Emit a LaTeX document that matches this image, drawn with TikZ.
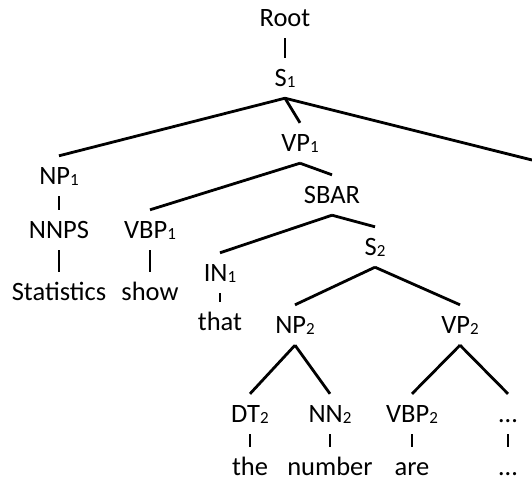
\documentclass[tikz,border=0pt]{standalone}
\usepackage{fontspec}
\setmainfont{Carlito}
\newcommand{\idx}[1]{\raisebox{-1.5pt}{\fontsize{17}{17}\selectfont #1}}
\tikzset{
  tag/.style={font=\fontsize{26.5}{30}\selectfont, text height=16pt, text depth=0pt, inner xsep=0pt, inner ysep=12pt},
  word/.style={font=\fontsize{26.5}{30}\selectfont, text height=25pt, text depth=0pt, inner xsep=0pt, inner ysep=3pt, anchor=base},
  branch/.style={line width=2.8pt},
}

\begin{document}
\begin{tikzpicture}[x=1pt, y=-1pt]
    \useasboundingbox (0,0) rectangle (532,483);
    % phrase nodes
    \node[tag] (root) at (285,18) {Root};
    \node[tag] (s1) at (285,78) {S\idx{1}};
    \node[tag] (np1) at (59,176) {NP\idx{1}};
    \node[tag] (vp1) at (300,143) {VP\idx{1}};
    \node[tag] (nnps) at (59,230) {NNPS};
    \node[tag] (vbp1) at (150,230) {VBP\idx{1}};
    \node[tag] (sbar) at (332,195) {SBAR};
    \node[tag] (in1) at (220,273) {IN\idx{1}};
    \node[tag] (s2) at (375,247) {S\idx{2}};
    \node[tag] (np2) at (295,325) {NP\idx{2}};
    \node[tag] (vp2) at (460,325) {VP\idx{2}};
    \node[tag] (dt2) at (250,414) {DT\idx{2}};
    \node[tag] (nn2) at (330,414) {NN\idx{2}};
    \node[tag] (vbp2) at (412,414) {VBP\idx{2}};
    \node[tag] (dots) at (508,414) {…};
    % words (placed on their baselines)
    \node[word] (stats) at (59,300) {Statistics};
    \node[word] (show) at (150,300) {show};
    \node[word] (that) at (220,330) {that};
    \node[word] (the) at (250,475) {the};
    \node[word] (number) at (330,475) {number};
    \node[word] (are) at (412,475) {are};
    \node[word] (dots2) at (508,475) {…};
    \coordinate (edge) at (532,160);

    \foreach \a/\b in {root/s1, s1/np1, s1/vp1, np1/nnps, nnps/stats,
                       vp1/vbp1, vp1/sbar, vbp1/show, sbar/in1, sbar/s2,
                       in1/that, s2/np2, s2/vp2, np2/dt2, np2/nn2,
                       vp2/vbp2, vp2/dots, dt2/the, nn2/number,
                       vbp2/are, dots/dots2}
        \draw[branch] (\a.south) -- (\b.north);
    \draw[branch] (s1.south) -- (edge);
\end{tikzpicture}
\end{document}
